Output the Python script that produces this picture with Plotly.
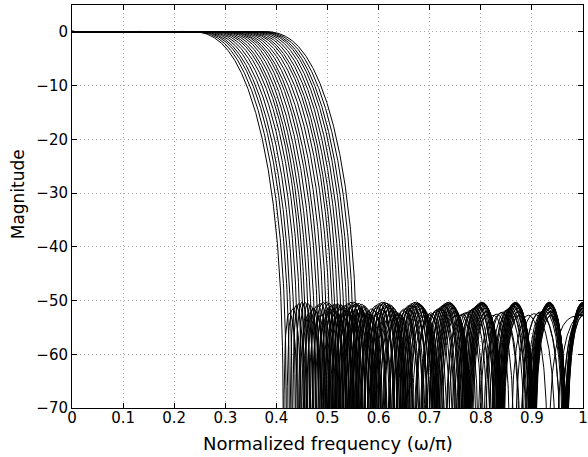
import numpy as np
import plotly.graph_objects as go

# stopband edges of the family of lowpass responses (omega/pi)
stop_edges = [0.410, 0.416, 0.422, 0.427, 0.433, 0.439, 0.445, 0.451, 0.456,
              0.462, 0.468, 0.474, 0.480, 0.485, 0.491, 0.497, 0.503, 0.509,
              0.514, 0.520, 0.526, 0.532, 0.538, 0.543, 0.549, 0.555]
transition_width = 0.16
half_order = 15          # filter length 31
stop_weight = 3.3

x_ticks = [0, 0.1, 0.2, 0.3, 0.4, 0.5, 0.6, 0.7, 0.8, 0.9, 1]
x_labels = ["0", "0.1", "0.2", "0.3", "0.4", "0.5", "0.6", "0.7", "0.8", "0.9", "1"]
y_ticks = [0, -10, -20, -30, -40, -50, -60, -70]
y_labels = ["0", "\u221210", "\u221220", "\u221230", "\u221240", "\u221250", "\u221260", "\u221270"]


def design(wp, ws, M, K, iters=150):
    # Lawson iteration -> minimax linear phase lowpass
    gp = np.linspace(0, wp * np.pi, 200)
    gs = np.linspace(ws * np.pi, np.pi, 300)
    w = np.concatenate([gp, gs])
    D = np.concatenate([np.ones_like(gp), np.zeros_like(gs)])
    W = np.concatenate([np.ones_like(gp), K * np.ones_like(gs)])
    C = np.cos(np.outer(w, np.arange(M + 1)))
    v = np.ones_like(w) / len(w)
    a = None
    for _ in range(iters):
        s = np.sqrt(v) * W
        a = np.linalg.lstsq(C * s[:, None], D * s, rcond=None)[0]
        e = np.abs(C @ a - D) * W
        v = v * e + 1e-12
        v /= v.sum()
    return a


freq = np.linspace(0, 1, 1601)
basis = np.cos(np.outer(np.pi * freq, np.arange(half_order + 1)))

fig = go.Figure()
for ws in stop_edges:
    a = design(ws - transition_width, ws, half_order, stop_weight)
    mag = 20 * np.log10(np.maximum(np.abs(basis @ a), 1e-7))
    fig.add_trace(go.Scatter(x=freq, y=mag, mode="lines",
                             line=dict(color="black", width=1),
                             showlegend=False, hoverinfo="skip"))

axis_common = dict(
    showline=True, linecolor="black", linewidth=1, mirror="ticks",
    ticks="inside", ticklen=5, tickcolor="black", automargin=False,
    showgrid=True, gridcolor="#a8a8a8", griddash="1px,3px", gridwidth=1,
    zeroline=False, tickfont=dict(size=15, color="black"),
)

fig.update_layout(
    width=588, height=457,
    margin=dict(l=72, r=5, t=5, b=49),
    paper_bgcolor="white", plot_bgcolor="white",
    font=dict(family="DejaVu Sans, sans-serif", color="black"),
    xaxis=dict(range=[0, 1], tickvals=x_ticks, ticktext=x_labels,
               ticklabelstandoff=-4, **axis_common),
    yaxis=dict(range=[-70, 5], tickvals=y_ticks, ticktext=y_labels,
               **axis_common),
    annotations=[
        dict(text="Normalized frequency (\u03c9/\u03c0)", xref="paper", yref="paper",
             x=0.5, y=-0.087, xanchor="center", yanchor="middle",
             showarrow=False, font=dict(size=18)),
        dict(text="Magnitude", xref="paper", yref="paper",
             x=-0.104, y=0.53, xanchor="center", yanchor="middle",
             textangle=-90, showarrow=False, font=dict(size=17)),
    ],
)

# drop the page's default body margin so the figure sits at the window origin
fig.write_html("out.html", config={"displayModeBar": False},
               post_script="document.body.style.margin='0';")
